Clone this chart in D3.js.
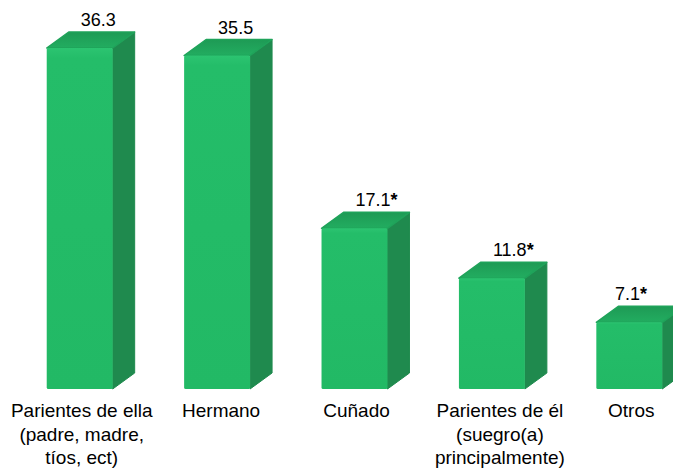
<!DOCTYPE html>
<html>
<head>
<meta charset="utf-8">
<script src="https://cdn.jsdelivr.net/npm/d3@7"></script>
<style>
  html, body { margin: 0; padding: 0; background: #fff; }
  svg { display: block; }
  text { font-family: "Liberation Sans", Arial, sans-serif; fill: #000; }
</style>
</head>
<body>
<svg id="chart" width="673" height="470"></svg>
<script>
// ---- data ----
const categories = [
  ["Parientes de ella", "(padre, madre,", "tíos, ect)"],
  ["Hermano"],
  ["Cuñado"],
  ["Parientes de él", "(suegro(a)", "principalmente)"],
  ["Otros"]
];
const values = [36.3, 35.5, 17.1, 11.8, 7.1];
const significant = [false, false, true, true, true];
const valueLabels = ["36.3", "35.5", "17.1", "11.8", "7.1"];

// ---- layout ----
const W = 673, H = 470;
const base = 389;
const depthX = 22, depthY = 16;

const svg = d3.select("#chart");
const defs = svg.append("defs");
const gFront = defs.append("linearGradient").attr("id", "gFront")
  .attr("x1", 0).attr("y1", 0).attr("x2", 0).attr("y2", 1);
gFront.append("stop").attr("offset", "0%").attr("stop-color", "#2cc471");
gFront.append("stop").attr("offset", "3%").attr("stop-color", "#24bd69");
gFront.append("stop").attr("offset", "100%").attr("stop-color", "#22b965");
const gTop = defs.append("linearGradient").attr("id", "gTop")
  .attr("x1", 0).attr("y1", 0).attr("x2", 0).attr("y2", 1);
gTop.append("stop").attr("offset", "0%").attr("stop-color", "#1e9a55");
gTop.append("stop").attr("offset", "100%").attr("stop-color", "#22ad60");

const idx = values.map((d, i) => i);
const x = d3.scaleBand().domain(idx).range([11, 698]).paddingInner(0.52).paddingOuter(0.26);
const y = d3.scaleLinear().domain([0, d3.max(values)]).range([base, 48]);
const bw = x.bandwidth();

const bars = svg.append("g").selectAll("g").data(idx).join("g");

// side face
bars.append("path")
  .attr("d", i => {
    const x1 = x(i) + bw, yt = y(values[i]);
    return `M${x1},${yt} L${x1 + depthX},${yt - depthY} L${x1 + depthX},${base - depthY} L${x1},${base} Z`;
  })
  .attr("fill", "#1f8a4e")
  .attr("stroke", "#1f8a4e").attr("stroke-width", 1).attr("stroke-linejoin", "round");

// top face
bars.append("path")
  .attr("d", i => {
    const x0 = x(i), yt = y(values[i]);
    return `M${x0},${yt} L${x0 + depthX},${yt - depthY} L${x0 + bw + depthX},${yt - depthY} L${x0 + bw},${yt} Z`;
  })
  .attr("fill", "url(#gTop)")
  .attr("stroke", "#1fa35a").attr("stroke-width", 1.5).attr("stroke-linejoin", "round");

// front face
bars.append("rect")
  .attr("x", i => x(i))
  .attr("y", i => y(values[i]))
  .attr("width", bw)
  .attr("height", i => base - y(values[i]))
  .attr("rx", 1.5)
  .attr("fill", "url(#gFront)");

// value labels
const labels = svg.append("g").selectAll("text").data(idx).join("text")
  .attr("x", i => x(i) + 34)
  .attr("y", i => y(values[i]) - 22)
  .attr("font-size", 18)
  .attr("text-anchor", "start");
labels.append("tspan").text(i => valueLabels[i]);
labels.filter(i => significant[i]).append("tspan").attr("font-weight", "bold").text("*");
labels.each(function() {
  const bb = this.getBBox();
  const maxRight = 647;
  if (bb.x + bb.width > maxRight) {
    d3.select(this).attr("x", +d3.select(this).attr("x") - (bb.x + bb.width - maxRight));
  }
});

// category labels
const cats = svg.append("g").selectAll("text").data(idx).join("text")
  .attr("x", i => x(i) + bw / 2)
  .attr("y", 417)
  .attr("font-size", 19)
  .attr("text-anchor", "middle");
cats.selectAll("tspan").data(i => categories[i].map(l => ({ l, i }))).join("tspan")
  .attr("x", d => x(d.i) + bw / 2 + (d.i === 3 ? 8 : d.i === 1 ? 4 : 2))
  .attr("dy", (d, k) => k === 0 ? 0 : 23.5)
  .text(d => d.l);
</script>
</body>
</html>
